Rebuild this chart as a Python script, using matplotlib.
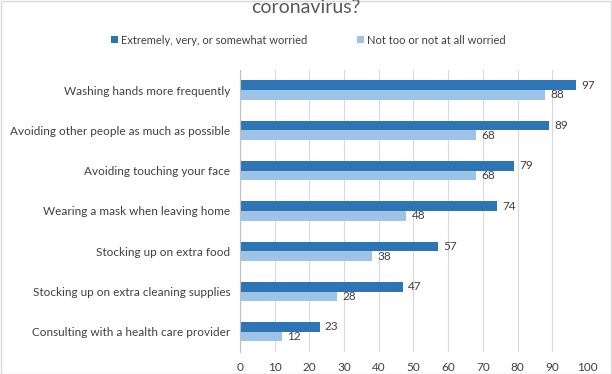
import matplotlib
matplotlib.use("Agg")
import matplotlib.pyplot as plt
import numpy as np

categories = ["Washing hands more frequently",
              "Avoiding other people as much as possible",
              "Avoiding touching your face",
              "Wearing a mask when leaving home",
              "Stocking up on extra food",
              "Stocking up on extra cleaning supplies",
              "Consulting with a health care provider"]
worried = [97, 89, 79, 74, 57, 47, 23]
not_worried = [88, 68, 68, 48, 38, 28, 12]
series_labels = ["Extremely, very, or somewhat worried", "Not too or not at all worried"]
xticks = [0, 10, 20, 30, 40, 50, 60, 70, 80, 90, 100]

dark = "#2E75B6"
light = "#9DC3E6"
txt = "#404040"

plt.rcParams['font.family'] = ['Lato', 'DejaVu Sans']

fig = plt.figure(figsize=(6.12, 3.74), dpi=100)
ax = fig.add_axes([0.392, 0.059, 0.567, 0.754])

y = np.arange(len(categories))
h = 0.24
b1 = ax.barh(y - h / 2, worried, height=h, color=dark, label=series_labels[0], zorder=3)
b2 = ax.barh(y + h / 2, not_worried, height=h, color=light, label=series_labels[1], zorder=3)
for rect, v in zip(b1, worried):
    ax.text(v + 1.5, rect.get_y() + rect.get_height() / 2, str(v), va='center', ha='left', fontsize=8.5, color=txt)
for rect, v in zip(b2, not_worried):
    ax.text(v + 1.5, rect.get_y() + rect.get_height() / 2, str(v), va='center', ha='left', fontsize=8.5, color=txt)

ax.set_ylim(len(categories) - 0.5, -0.5)
ax.set_xlim(0, 100)
ax.set_xticks(xticks)
ax.set_yticks(y)
ax.set_yticklabels(categories, fontsize=8.5, color=txt)
ax.tick_params(axis='x', labelsize=8.5, colors=txt, length=0, pad=7)
ax.tick_params(axis='y', length=0, pad=7)
ax.grid(axis='x', color='#D9D9D9', linewidth=0.8, zorder=0)
for s in ['top', 'right', 'bottom']:
    ax.spines[s].set_visible(False)
ax.spines['left'].set_color('#BFBFBF')
ax.spines['left'].set_zorder(4)

fig.text(0.5, 0.965, "coronavirus?", ha='center', va='baseline', fontsize=14, color='#595959')

fig.legend(handles=[b1, b2], labels=series_labels, loc='center', bbox_to_anchor=(0.504, 0.893),
           ncol=2, frameon=False, fontsize=8, handlelength=0.6, handleheight=0.6,
           columnspacing=4.5, handletextpad=0.3, labelcolor=txt)

border = plt.Rectangle((0.001, 0.001), 0.997, 0.997, transform=fig.transFigure, fill=False,
                       edgecolor='#D9D9D9', linewidth=1)
fig.add_artist(border)

fig.savefig("out.png", dpi=100)
